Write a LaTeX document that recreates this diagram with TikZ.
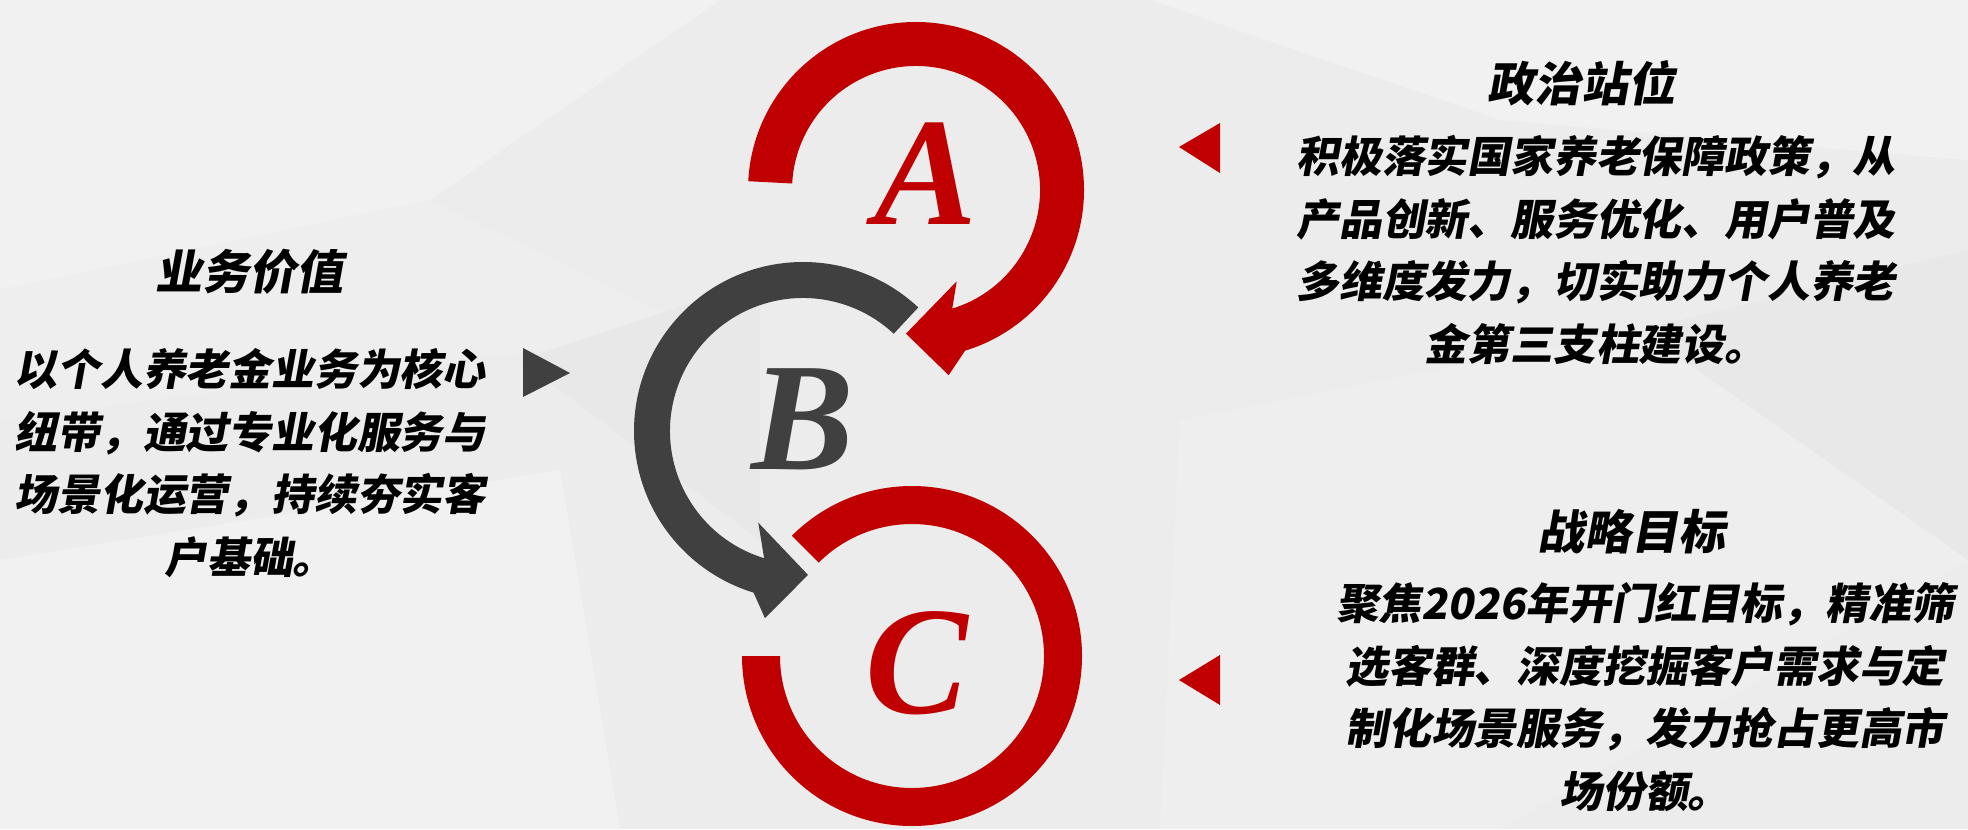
\documentclass[tikz,border=0pt]{standalone}
\usepackage{fontspec}
\setmainfont{Liberation Serif}
\newfontfamily\cjk[FakeSlant=0.18]{Noto Sans CJK SC}
\usetikzlibrary{calc}
\definecolor{ared}{HTML}{C00000}
\definecolor{agray}{HTML}{404040}
\definecolor{bgbase}{HTML}{ECECEC}
\definecolor{bglight}{HTML}{F1F1F1}
\definecolor{bgmid}{HTML}{EEEEEE}
\definecolor{bgdark}{HTML}{E8E8E8}
\begin{document}
\begin{tikzpicture}[x=0.5pt,y=-0.5pt,
  letter/.style={font=\fontsize{77}{77}\selectfont\bfseries\itshape, inner sep=0pt},
  ttl/.style={font=\cjk\bfseries\fontsize{23.5}{28}\selectfont, inner sep=0pt, text=black},
  body/.style={font=\cjk\bfseries\fontsize{21.4}{31.3}\selectfont, inner sep=0pt, align=center, text=black}]
% background
\fill[bgbase] (0,0) rectangle (1968,829);
\useasboundingbox (0,0) rectangle (1968,829);
\fill[bglight] (0,0) -- (720,0) -- (430,200) -- (0,290) -- cycle;
\fill[bgmid] (0,290) -- (430,200) -- (700,330) -- (0,420) -- cycle;
\fill[bglight] (0,560) -- (560,470) -- (620,829) -- (0,829) -- cycle;
\fill[bgdark] (520,360) -- (760,280) -- (760,540) -- cycle;
\fill[bglight] (1150,0) -- (1968,0) -- (1968,160) -- (1500,120) -- cycle;
\fill[bgdark] (1640,330) -- (1968,250) -- (1968,560) -- cycle;
\fill[bgmid] (1180,420) -- (1640,330) -- (1968,560) -- (1500,829) -- (1160,829) -- cycle;
% arrows
\coordinate (cA) at (916,190);
\coordinate (cB) at (803,431);
\coordinate (cC) at (912,656);
\fill[ared] ($(cA)+(-177:168)$) arc[start angle=-177,end angle=73,radius=168]
  -- ($(cA)+(80:188)$) -- ($(cA)+(94:144)$) -- ($(cA)+(66:100)$)
  -- ($(cA)+(73:124)$) arc[start angle=73,end angle=-177,radius=124] -- cycle;
\fill[agray] ($(cB)+(-47:169)$) arc[start angle=-47,end angle=-253,radius=169]
  -- ($(cB)+(-258.5:191)$) -- ($(cB)+(-272:144)$) -- ($(cB)+(-244:102)$)
  -- ($(cB)+(-253:133)$) arc[start angle=-253,end angle=-47,radius=133] -- cycle;
\fill[ared] ($(cC)+(-135:170)$) arc[start angle=-135,end angle=180,radius=170]
  -- ($(cC)+(180:132)$) arc[start angle=180,end angle=-135,radius=132] -- cycle;
% letters
\node[letter, text=ared] (la) at (926,174) {A};
\node[letter, text=agray] (lb) at (803,419) {B};
\node[letter, text=ared] (lc) at (917,663) {C};
% pointers
\fill[agray] (523,348) -- (570,373) -- (523,397) -- cycle;
\fill[ared] (1220,123) -- (1179,147) -- (1220,173) -- cycle;
\fill[ared] (1220,655) -- (1179,680) -- (1220,705) -- cycle;
% texts
\node[ttl] (t1) at (249,272) {业务价值};
\node[body] (b1) at (250,463) {以个人养老金业务为核心\\纽带，通过专业化服务与\\场景化运营，持续夯实客\\户基础。};
\node[ttl] (t2) at (1581,83) {政治站位};
\node[body] (b2) at (1596,250) {积极落实国家养老保障政策，从\\产品创新、服务优化、用户普及\\多维度发力，切实助力个人养老\\金第三支柱建设。};
\node[ttl] (t3) at (1631,532) {战略目标};
\node[body] (b3) at (1645,697) {聚焦2026年开门红目标，精准筛\\选客群、深度挖掘客户需求与定\\制化场景服务，发力抢占更高市\\场份额。};
\end{tikzpicture}
\end{document}
